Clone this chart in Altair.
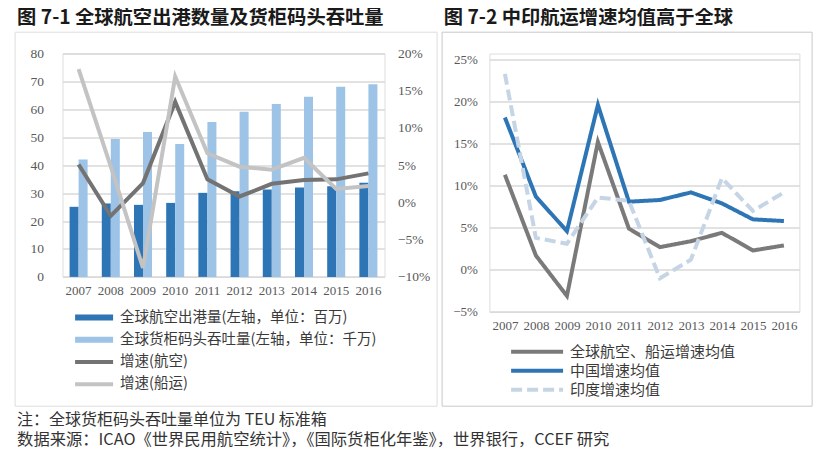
import altair as alt
import pandas as pd

# ---------------- data ----------------
years = [str(y) for y in range(2007, 2017)]

air_departures = [25.1, 26.3, 25.8, 26.5, 30.1, 30.7, 31.3, 32.0, 32.5, 33.7]   # million
teu_throughput = [42.0, 49.4, 51.9, 47.6, 55.5, 59.1, 61.9, 64.5, 68.1, 69.0]   # 10 million TEU
air_growth = [0.051, -0.018, 0.026, 0.135, 0.031, 0.008, 0.025, 0.030, 0.031, 0.039]
ship_growth = [0.179, 0.048, -0.088, 0.169, 0.066, 0.048, 0.044, 0.060, 0.018, 0.022]

global_avg = [0.113, 0.017, -0.031, 0.152, 0.049, 0.027, 0.034, 0.044, 0.023, 0.029]
china_avg = [0.181, 0.087, 0.046, 0.196, 0.081, 0.083, 0.092, 0.079, 0.060, 0.058]
india_avg = [0.233, 0.038, 0.031, 0.086, 0.082, -0.010, 0.012, 0.109, 0.070, 0.092]

bar_series = ["全球航空出港量(左轴，单位：百万)", "全球货柜码头吞吐量(左轴，单位：千万)"]
line_series = ["增速(航空)", "增速(船运)"]
right_series = ["全球航空、船运增速均值", "中国增速均值", "印度增速均值"]

left_ticks = [0, 10, 20, 30, 40, 50, 60, 70, 80]
right_ticks_left = [-0.10, -0.05, 0.0, 0.05, 0.10, 0.15, 0.20]
right_ticks = [-0.05, 0.0, 0.05, 0.10, 0.15, 0.20, 0.25]

title_left = "图 7-1  全球航空出港数量及货柜码头吞吐量"
title_right = "图 7-2  中印航运增速均值高于全球"
note_text = "注：全球货柜码头吞吐量单位为 TEU 标准箱"
source_text = "数据来源：ICAO《世界民用航空统计》，《国际货柜化年鉴》，世界银行，CCEF 研究"

# ---------------- tables ----------------
bar_df = pd.DataFrame({
    "year": years * 2,
    "series": [bar_series[0]] * 10 + [bar_series[1]] * 10,
    "value": air_departures + teu_throughput,
})
line_df = pd.DataFrame({
    "year": years * 2,
    "series": [line_series[0]] * 10 + [line_series[1]] * 10,
    "value": air_growth + ship_growth,
})
right_df = pd.DataFrame({
    "year": years * 3,
    "series": [right_series[0]] * 10 + [right_series[1]] * 10 + [right_series[2]] * 10,
    "value": global_avg + china_avg + india_avg,
})

CJK = "Noto Sans CJK SC"
NUM = "Liberation Serif"
GRID = "#D9D9D9"
LABEL = "#595959"

LW, LH = 322, 223.4
RW, RH = 310, 258.4


def text_layer(txt, x, y, size, weight="normal", color="#333333"):
    return alt.Chart(pd.DataFrame({"t": [txt]})).mark_text(
        align="left", baseline="middle", font=CJK, fontSize=size,
        fontWeight=weight, color=color
    ).encode(text="t:N", x=alt.value(x), y=alt.value(y))


def frame_layer(x1, x2, y1, y2, color):
    return alt.Chart(pd.DataFrame({"f": [0]})).mark_rect(
        fillOpacity=0, stroke=color, strokeWidth=1
    ).encode(x=alt.value(x1), x2=alt.value(x2), y=alt.value(y1), y2=alt.value(y2))


def legend(x, y, stype, size, clip, rowpad, fsize):
    return alt.Legend(title=None, orient="none", legendX=x, legendY=y,
                      symbolType=stype, symbolSize=size, symbolStrokeWidth=4,
                      clipHeight=clip, rowPadding=rowpad, labelFont=CJK,
                      labelFontSize=fsize, labelColor="#3A3A3A", labelOffset=5,
                      labelLimit=500, padding=0)


def axis(size, pad, **kw):
    return alt.Axis(title=None, domain=False, ticks=False, tickSize=0,
                    labelPadding=pad, labelFontSize=size, labelFont=NUM,
                    labelColor=LABEL, **kw)


# ---------------- left panel ----------------
bars = alt.Chart(bar_df).mark_bar().encode(
    x=alt.X("year:N", sort=years,
            scale=alt.Scale(paddingInner=0.44, paddingOuter=0.22),
            axis=axis(13, 8, labelAngle=0)),
    xOffset=alt.XOffset("series:N", sort=bar_series,
                        scale=alt.Scale(paddingInner=0, paddingOuter=0)),
    y=alt.Y("value:Q", scale=alt.Scale(domain=[0, 80], nice=False),
            axis=axis(13.5, 19, values=left_ticks, grid=True, gridColor=GRID, gridWidth=1.3)),
    fill=alt.Fill("series:N", sort=bar_series,
                  scale=alt.Scale(domain=bar_series, range=["#2E75B6", "#9DC3E6"]),
                  legend=legend(10.6, 256, "M-1,-0.16H1V0.16H-1Z", 1444, 16, 6.3, 14.5)),
)

lines = alt.Chart(line_df).mark_line(strokeWidth=4).encode(
    x=alt.X("year:N", sort=years, bandPosition=0.5),
    y=alt.Y("value:Q", scale=alt.Scale(domain=[-0.10, 0.20], nice=False),
            axis=axis(13.5, 13, orient="right", format=".0%", values=right_ticks_left,
                      grid=False)),
    stroke=alt.Stroke("series:N", sort=line_series,
                      scale=alt.Scale(domain=line_series, range=["#737373", "#C3C3C3"]),
                      legend=legend(10.6, 300.5, "stroke", 1444, 16, 6.3, 14.5)),
)

left = alt.layer(
    frame_layer(-47.4, 374.6, -21.3, 352.7, "#DDDDDD"),
    bars, lines,
    text_layer(title_left, -45.4, -35.3, 19.3, "bold", "#1A1A1A"),
    text_layer(note_text, -45.4, 366.5, 16),
    text_layer(source_text, -45.4, 386.5, 16.3),
).resolve_scale(y="independent").properties(width=LW, height=LH)

# ---------------- right panel ----------------
right_leg = legend(19.7, 291.2, "stroke", 2704, 14, 4, 15)
right_lines = alt.Chart(right_df).mark_line(strokeWidth=4).encode(
    x=alt.X("year:N", sort=years, axis=axis(13, 8, labelAngle=0)),
    y=alt.Y("value:Q", scale=alt.Scale(domain=[-0.05, 0.25], nice=False, range=[RH, 6]),
            axis=axis(13, 12, format=".0%", values=right_ticks, grid=True,
                      gridColor=GRID, gridWidth=1.3)),
    stroke=alt.Stroke("series:N", sort=right_series,
                      scale=alt.Scale(domain=right_series,
                                      range=["#7A7A7A", "#2E75B6", "#C5D5E6"]),
                      legend=right_leg),
    strokeDash=alt.StrokeDash("series:N", sort=right_series,
                              scale=alt.Scale(domain=right_series,
                                              range=[[1, 0], [1, 0], [11, 5]]),
                              legend=right_leg),
)

right = alt.layer(
    frame_layer(-47.3, 322.7, -21.3, 352.7, "#C8C8C8"),
    right_lines,
    text_layer(title_right, -45.6, -35.3, 19.3, "bold", "#1A1A1A"),
).properties(width=RW, height=RH)

chart = alt.hconcat(left, right, spacing=104.9, bounds="flush").resolve_scale(
    stroke="independent", strokeDash="independent", fill="independent"
).resolve_legend(
    stroke="independent", strokeDash="independent", fill="independent"
).properties(
    padding={"left": 5.5, "top": 0.5, "right": 0, "bottom": 0}
).configure_view(stroke=None).configure(background="white")

chart.save("out.html", embed_options={"renderer": "svg", "actions": False})
